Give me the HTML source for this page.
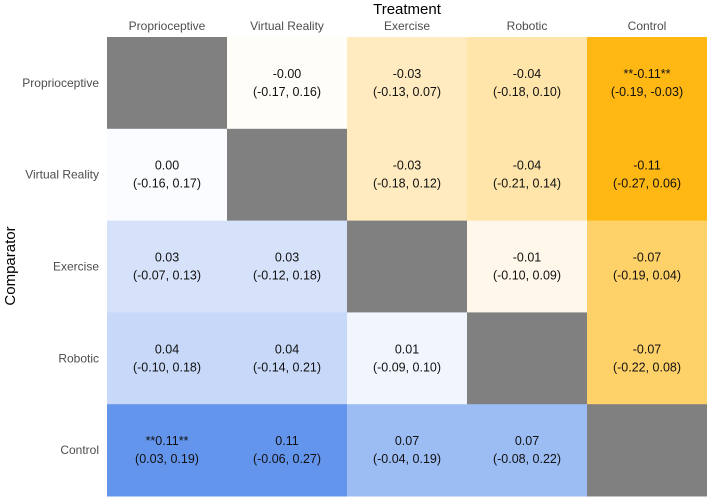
<!DOCTYPE html>
<html><head><meta charset="utf-8"><style>
body{margin:0;background:#fff;width:709px;height:499px;overflow:hidden;font-family:"Liberation Sans",sans-serif;}
</style></head><body>
<svg id="c" width="709" height="499"></svg>
<script>
const treatments=["Proprioceptive","Virtual Reality","Exercise","Robotic","Control"];
const comparators=["Proprioceptive","Virtual Reality","Exercise","Robotic","Control"];
// est[row][col]: row=comparator, col=treatment
const est=[
[null,-0.00,-0.03,-0.04,-0.11],
[0.00,null,-0.03,-0.04,-0.11],
[0.03,0.03,null,-0.01,-0.07],
[0.04,0.04,0.01,null,-0.07],
[0.11,0.11,0.07,0.07,null]];
const lo=[
[null,-0.17,-0.13,-0.18,-0.19],
[-0.16,null,-0.18,-0.21,-0.27],
[-0.07,-0.12,null,-0.10,-0.19],
[-0.10,-0.14,-0.09,null,-0.22],
[0.03,-0.06,-0.04,-0.08,null]];
const hi=[
[null,0.16,0.07,0.10,-0.03],
[0.17,null,0.12,0.14,0.06],
[0.13,0.18,null,0.09,0.04],
[0.18,0.21,0.10,null,0.08],
[0.19,0.27,0.19,0.22,null]];
const svg=document.getElementById('c');
const NS='http://www.w3.org/2000/svg';
const x0=107,y0=37,cw=120,ch=91.8,maxAbs=0.11;
function xPos(i){return x0+i*cw;}
function yPos(j){return y0+j*ch;}
function color(v){
  const t=Math.min(Math.abs(v)/maxAbs,1);
  const c=v<0?[255,183,20]:[100,149,237];
  const m=c.map(k=>Math.round(255+(k-255)*t));
  return `rgb(${m[0]},${m[1]},${m[2]})`;
}
function f(v){return (v<0||Object.is(v,-0)?"-":"")+Math.abs(v).toFixed(2);}
function el(tag,attrs,txt){const e=document.createElementNS(NS,tag);for(const k in attrs)e.setAttribute(k,attrs[k]);if(txt!==undefined)e.textContent=txt;svg.appendChild(e);return e;}
for(let r=0;r<5;r++)for(let c=0;c<5;c++){
  const v=est[r][c];
  const rect=el('rect',{x:xPos(c),y:yPos(r),width:cw,height:ch+0.5,fill:v===null?'#808080':(v===0?(c<r?'#fbfcff':'#fffdf8'):color(v))});
  
  
  if(v===null)continue;
  const sig=(lo[r][c]>0||hi[r][c]<0);
  let label=(r===0&&c===1)?"-0.00":f(v);
  if(sig)label="**"+label+"**";
  const cx=xPos(c)+cw/2,cy=yPos(r)+ch/2;
  const t1=el('text',{x:cx,y:cy-5,'text-anchor':'middle','font-size':12.5,fill:'#111'},label);
  
  
  const t2=el('text',{x:cx,y:cy+13,'text-anchor':'middle','font-size':12.5,fill:'#111'},"("+f(lo[r][c])+", "+f(hi[r][c])+")");
  
  
}
treatments.forEach((t,i)=>{
  const e=el('text',{x:xPos(i)+cw/2,y:30,'text-anchor':'middle','font-size':12,fill:'#4d4d4d'},t);
  
  
});
comparators.forEach((t,j)=>{
  const e=el('text',{x:99,y:yPos(j)+ch/2+4,'text-anchor':'end','font-size':12,fill:'#4d4d4d'},t);
  
  
});
const tt=el('text',{x:407,y:14,'text-anchor':'middle','font-size':15,fill:'#000'},"Treatment");


const yt=el('text',{x:15,y:266,'text-anchor':'middle','font-size':15,fill:'#000',transform:'rotate(-90 15 266)'},"Comparator");


</script>
</body></html>
